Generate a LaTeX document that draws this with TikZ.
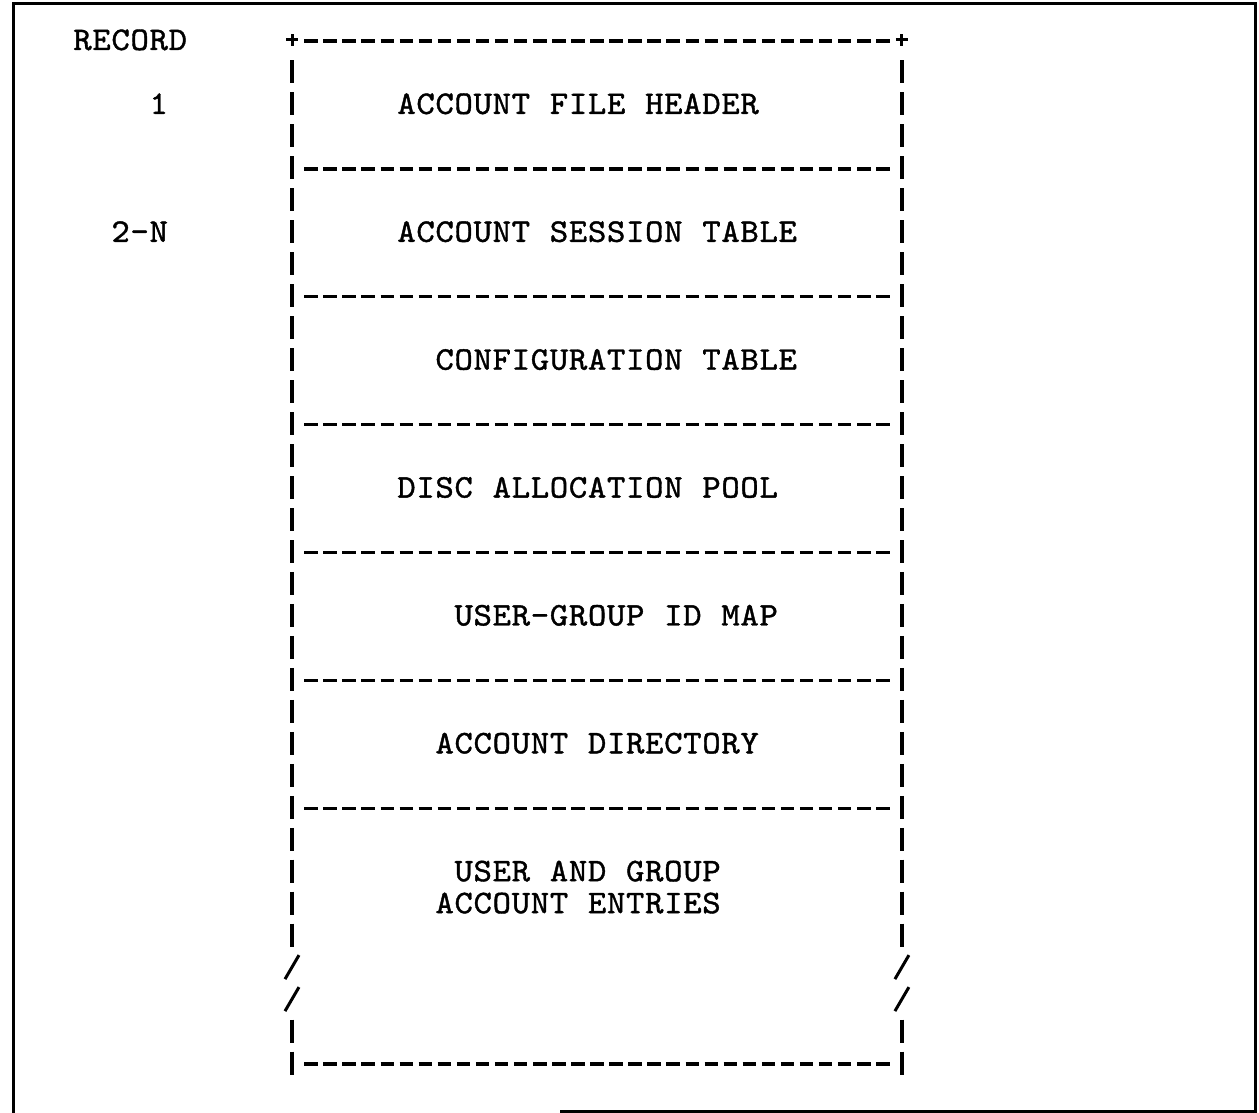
\documentclass[tikz,border=0pt]{standalone}
\usepackage{fontspec}
\newfontfamily\typewriter[FakeBold=1.2,FakeStretch=1.06]{lmmono10-regular.otf}
% grid of the typed layout: column pitch and line pitch
\newcommand{\colx}[1]{292+19.06*(#1)}
\newcommand{\rowy}[1]{40+31.97*(#1)}
% set every character in its own cell of the typewriter pitch
\def\spreadaux#1{\ifx\relax#1\else\makebox[19.06pt]{#1}\expandafter\spreadaux\fi}
\newcommand{\spread}[1]{\spreadaux#1\relax}
\tikzset{
  typer/.style={font=\typewriter\fontsize{33}{33}\selectfont,
                anchor=base west, inner sep=0pt, text=black},
  bar/.style={line width=3.4pt, dash pattern=on 23pt off 8.97pt},
  rule/.style={line width=3.4pt, dash pattern=on 13.5pt off 5.56pt},
  stroke/.style={line width=3pt},
  frame/.style={line width=3pt}
}
\newcommand{\typed}[4]{% name, column, row, text
  \node[typer] (#1) at ({\colx{#2}-9.53},{\rowy{#3}+10}) {\spread{#4}};}
\begin{document}
\begin{tikzpicture}[x=1pt,y=-1pt]
\useasboundingbox (0,0) rectangle (1259,1113);
\fill[white] (0,0) rectangle (1259,1113);

% outer frame
\draw[frame] (13,1113) -- (13,4) -- (1255,4) -- (1255,1111) -- (560,1111);

% record numbers
\typed{rec}{-11}{0}{RECORD}
\typed{r1}{-7}{2}{1}
\typed{r2n}{-9}{6}{2-N}

% column corners
\coordinate (tl) at ({\colx{0}},{\rowy{0}});
\coordinate (tr) at ({\colx{32}},{\rowy{0}});
\foreach \c in {tl,tr}{
  \draw[stroke] ([xshift=-6pt]\c) -- ([xshift=6pt]\c);
  \draw[stroke] ([yshift=-6pt]\c) -- ([yshift=6pt]\c);
}

% side walls, broken by the cut marks
\foreach \c in {0,32}{
  \draw[bar] ({\colx{\c}},{\rowy{1}-11.5}) -- ({\colx{\c}},{\rowy{28}+11.5});
  \draw[bar] ({\colx{\c}},{\rowy{31}-11.5}) -- ({\colx{\c}},{\rowy{32}+11.5});
  \foreach \r in {29,30}
    \draw[stroke] ({\colx{\c}-7},{\rowy{\r}+12}) -- ({\colx{\c}+7},{\rowy{\r}-12});
}

% top edge and the separators between the tables
\draw[rule] ({\colx{1}-6.75},{\rowy{0}+1}) -- ({\colx{31}+6.75},{\rowy{0}+1});
\foreach \r in {4,8,12,16,20,24,32}
  \draw[rule] ({\colx{1}-6.75},{\rowy{\r}+1}) -- ({\colx{31}+6.75},{\rowy{\r}+1});

% table names
\typed{hdr}{6}{2}{ACCOUNT~FILE~HEADER}
\typed{ses}{6}{6}{ACCOUNT~SESSION~TABLE}
\typed{cfg}{8}{10}{CONFIGURATION~TABLE}
\typed{dap}{6}{14}{DISC~ALLOCATION~POOL}
\typed{ugm}{9}{18}{USER-GROUP~ID~MAP}
\typed{adir}{8}{22}{ACCOUNT~DIRECTORY}
\typed{uga}{9}{26}{USER~AND~GROUP}
\typed{ugb}{8}{27}{ACCOUNT~ENTRIES}
\end{tikzpicture}
\end{document}
